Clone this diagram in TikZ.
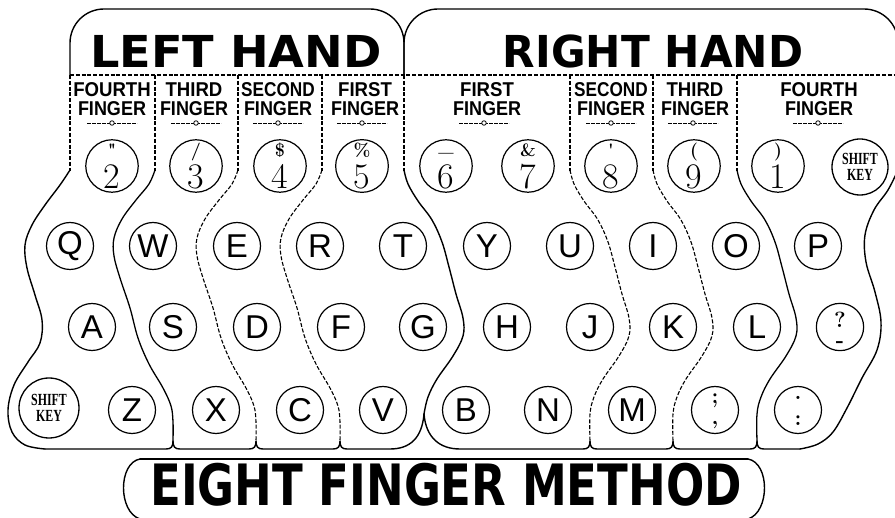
\documentclass[tikz,border=0pt]{standalone}
\usepackage{fontspec}
\usepackage{graphicx}
\newfontfamily\headfont{DejaVu Sans}
\newfontfamily\lblfont{Liberation Sans}
\newfontfamily\keyfnt{Liberation Sans}
\newfontfamily\shiftfnt{Liberation Serif}
\tikzset{
  outline/.style={line width=1.4pt, line join=round, line cap=round},
  sepline/.style={line width=1.1pt, dash pattern=on 4pt off 1.8pt},
  solidsep/.style={line width=1.3pt, line cap=round},
  key/.style={circle, draw, line width=1.2pt, minimum size=47pt, inner sep=0pt,
    font=\keyfnt\fontsize{33}{33}\selectfont},
  shiftkey/.style={circle, draw, line width=1.3pt, minimum size=#1, inner sep=0pt,
    align=center, font=\shiftfnt\bfseries\fontsize{17}{16}\selectfont},
  headtext/.style={inner sep=0pt, font=\headfont\bfseries\fontsize{44}{44}\selectfont},
  titletext/.style={inner sep=0pt, font=\headfont\bfseries\fontsize{57}{57}\selectfont},
  fingertext/.style={inner sep=0pt, align=center,
    font=\lblfont\bfseries\fontsize{20}{19.5}\selectfont},
  markdot/.style={circle, draw, fill=white, line width=0.8pt, minimum size=4.5pt, inner sep=0pt},
  markline/.style={line width=0.8pt, dash pattern=on 4pt off 1pt},
}
% a key with two characters stacked: name, x, y, top, bottom, baseline distance, top strut height
\newcommand{\twokey}[7]{%
  \node[key, align=center, font=\fontsize{20}{#6}\selectfont] (#1) at (#2,#3)
    {\rule{0pt}{#7pt}\smash{#4}\\\rule[-2pt]{0pt}{2pt}\smash{#5}};}
\newcommand{\numkey}[5]{%
  \twokey{#1}{#2}{#3}{\bfseries\fontsize{18}{18}\selectfont #4}{\fontsize{36}{36}\selectfont #5}{32}{16}}
\newcommand{\fingermark}[2]{%
  \draw[markline] (#2-25,123) -- (#2+25,123);
  \node[markdot] (#1) at (#2,123) {};}
\begin{document}
\begin{tikzpicture}[x=1pt,y=-1pt]
\useasboundingbox (0,0) rectangle (895,518);

% ---------- header outlines ----------
\draw[outline, rounded corners=34pt] (70,75) -- (70,9) -- (404,9) -- (404,75);
\draw[outline, rounded corners=34pt] (404,75) -- (404,9) -- (898,9) -- (898,75);
\draw[sepline] (70,75) -- (898,75);
\foreach \x in {70,155,238,322,404,570,653,737,898}
  \draw[sepline] (\x,75) -- (\x,171);

% ---------- left outer edge ----------
\draw[outline] plot[smooth,tension=0.6] coordinates {(70,170) (60,185) (45,205) (32,225)
  (25,245) (27,268) (35,295) (42,320) (40,343) (28,362) (14,385) (8,410) (12,432) (25,445) (45,449)};

% ---------- right outer edge ----------
\draw[outline] plot[smooth,tension=0.6] coordinates {(898,170) (888,190) (874,210) (865,235)
  (866,262) (875,292) (881,322) (877,350) (862,378) (847,408) (833,432) (818,444) (800,449)};

% ---------- left-hand separators ----------
\foreach \x in {155}
  \draw[solidsep] plot[smooth,tension=0.6] coordinates {(\x,170) ({\x-6},184) ({\x-19},200)
    ({\x-33},219) ({\x-41},238) ({\x-41},256) ({\x-35},278) ({\x-25},308) ({\x-17},338)
    ({\x-6},364) ({\x+8},388) ({\x+16},406) ({\x+18},422) ({\x+18},441)};
\foreach \x in {238,322}
  \draw[sepline] plot[smooth,tension=0.6] coordinates {(\x,170) ({\x-6},184) ({\x-19},200)
    ({\x-33},219) ({\x-41},238) ({\x-41},256) ({\x-35},278) ({\x-25},308) ({\x-17},338)
    ({\x-6},364) ({\x+8},388) ({\x+16},406) ({\x+18},422) ({\x+18},441)};

% ---------- right-hand separators ----------
\foreach \x in {737}
  \draw[solidsep] plot[smooth,tension=0.6] coordinates {(\x,170) ({\x+4},184) ({\x+14},201)
    ({\x+28},220) ({\x+38},242) ({\x+45},267) ({\x+52},294) ({\x+59},318) ({\x+59},336)
    ({\x+49},356) ({\x+33},379) ({\x+24},397) ({\x+20},414) ({\x+20},441)};
\foreach \x in {570,653}
  \draw[sepline] plot[smooth,tension=0.6] coordinates {(\x,170) ({\x+4},184) ({\x+14},201)
    ({\x+28},220) ({\x+38},242) ({\x+45},267) ({\x+52},294) ({\x+59},318) ({\x+59},336)
    ({\x+49},356) ({\x+33},379) ({\x+24},397) ({\x+20},414) ({\x+20},441)};

% ---------- boundary between the hands ----------
\draw[outline] plot[smooth,tension=0.6] coordinates {(404,170) (408,184) (418,201)
  (432,220) (442,242) (449,267) (456,294) (463,318) (463,336) (453,356) (437,379) (428,397) (424,414)};

% ---------- bottom edges ----------
\draw[outline] (45,449) -- (166,449) .. controls (171,449) and (173,447) .. (173,441)
  .. controls (173,447) and (175,449) .. (180,449) -- (249,449)
  .. controls (254,449) and (256,447) .. (256,441) .. controls (256,447) and (258,449) .. (263,449)
  -- (333,449) .. controls (338,449) and (340,447) .. (340,441)
  .. controls (340,447) and (342,449) .. (347,449) -- (390,449)
  .. controls (410,449) and (422,438) .. (424,414);
\draw[outline] (424,414) .. controls (426,438) and (440,449) .. (460,449) -- (583,449)
  .. controls (588,449) and (590,447) .. (590,441) .. controls (590,447) and (592,449) .. (597,449)
  -- (666,449) .. controls (671,449) and (673,447) .. (673,441)
  .. controls (673,447) and (675,449) .. (680,449) -- (750,449)
  .. controls (755,449) and (757,447) .. (757,441) .. controls (757,447) and (759,449) .. (764,449)
  -- (800,449);

% ---------- headings ----------
\node[headtext] (lefthand) at (236,51) {\scalebox{1.05}[1]{LEFT HAND}};
\node[headtext] (righthand) at (653,51) {\scalebox{0.96}[1]{RIGHT HAND}};

\node[fingertext] (lf4) at (112,99) {\scalebox{0.93}[1]{FOURTH}\\\scalebox{0.9}[1]{FINGER}};
\node[fingertext] (lf3) at (194,99) {\scalebox{0.93}[1]{THIRD}\\\scalebox{0.9}[1]{FINGER}};
\node[fingertext] (lf2) at (278,99) {\scalebox{0.86}[1]{SECOND}\\\scalebox{0.9}[1]{FINGER}};
\node[fingertext] (lf1) at (365,99) {\scalebox{0.93}[1]{FIRST}\\\scalebox{0.9}[1]{FINGER}};
\node[fingertext] (rf1) at (487,99) {\scalebox{0.93}[1]{FIRST}\\\scalebox{0.9}[1]{FINGER}};
\node[fingertext] (rf2) at (611,99) {\scalebox{0.86}[1]{SECOND}\\\scalebox{0.9}[1]{FINGER}};
\node[fingertext] (rf3) at (695,99) {\scalebox{0.93}[1]{THIRD}\\\scalebox{0.9}[1]{FINGER}};
\node[fingertext] (rf4) at (819,99) {\scalebox{0.93}[1]{FOURTH}\\\scalebox{0.9}[1]{FINGER}};

\fingermark{ml4}{112}
\fingermark{ml3}{196}
\fingermark{ml2}{278}
\fingermark{ml1}{362}
\fingermark{mr1}{484}
\fingermark{mr2}{611}
\fingermark{mr3}{693}
\fingermark{mr4}{818}

% ---------- number row ----------
\numkey{k2}{112}{166}{\textquotedbl}{2}
\numkey{k3}{196}{166}{/}{3}
\numkey{k4}{280}{166}{\$}{4}
\numkey{k5}{362}{166}{\%}{5}
\numkey{k6}{446}{166}{\raisebox{5pt}{\_}}{6}
\numkey{k7}{528}{166}{\&}{7}
\numkey{k8}{611}{166}{\textquotesingle}{8}
\numkey{k9}{694}{166}{(}{9}
\numkey{k1}{778}{166}{)}{1}
\node[shiftkey=56pt] (shiftR) at (860,167) {\scalebox{0.7}[1]{SHIFT}\\\scalebox{0.7}[1]{KEY}};

% ---------- upper letter row ----------
\node[key] (kq) at (70,246) {Q};
\node[key] (kw) at (153,246) {W};
\node[key] (ke) at (237,246) {E};
\node[key] (kr) at (320,246) {R};
\node[key] (kt) at (403,246) {T};
\node[key] (ky) at (487,246) {Y};
\node[key] (ku) at (570,246) {U};
\node[key] (ki) at (653,246) {I};
\node[key] (ko) at (736,246) {O};
\node[key] (kp) at (818,246) {P};

% ---------- home row ----------
\node[key] (ka) at (92,327) {A};
\node[key] (ks) at (173,327) {S};
\node[key] (kd) at (257,327) {D};
\node[key] (kf) at (341,327) {F};
\node[key] (kg) at (423,327) {G};
\node[key] (kh) at (507,327) {H};
\node[key] (kj) at (590,327) {J};
\node[key] (kk) at (673,327) {K};
\node[key] (kl) at (757,327) {L};
\twokey{kqm}{840}{327}{\bfseries\fontsize{22}{22}\selectfont ?}{\bfseries\fontsize{22}{22}\selectfont -}{20}{24}

% ---------- lower row ----------
\node[shiftkey=60pt] (shiftL) at (49,408) {\scalebox{0.7}[1]{SHIFT}\\\scalebox{0.7}[1]{KEY}};
\node[key] (kz) at (132,410) {Z};
\node[key] (kx) at (216,410) {X};
\node[key] (kc) at (300,410) {C};
\node[key] (kv) at (383,410) {V};
\node[key] (kb) at (466,410) {B};
\node[key] (kn) at (548,410) {N};
\node[key] (km) at (632,410) {M};
\twokey{ksc}{715}{410}{\bfseries\fontsize{22}{22}\selectfont ;}{\bfseries\fontsize{22}{22}\selectfont ,}{21}{11}
\twokey{kco}{798}{410}{\bfseries\fontsize{22}{22}\selectfont .}{\bfseries\fontsize{22}{22}\selectfont :}{26.4}{7.6}

% ---------- title ----------
\draw[outline] (140,459) -- (748,459);
\draw[outline] (140,459) .. controls (118,463) and (118,512) .. (140,519);
\draw[outline] (748,459) .. controls (770,463) and (770,512) .. (748,519);
\node[titletext] (title) at (446,485) {\scalebox{0.79}[1]{EIGHT FINGER METHOD}};
\end{tikzpicture}
\end{document}
